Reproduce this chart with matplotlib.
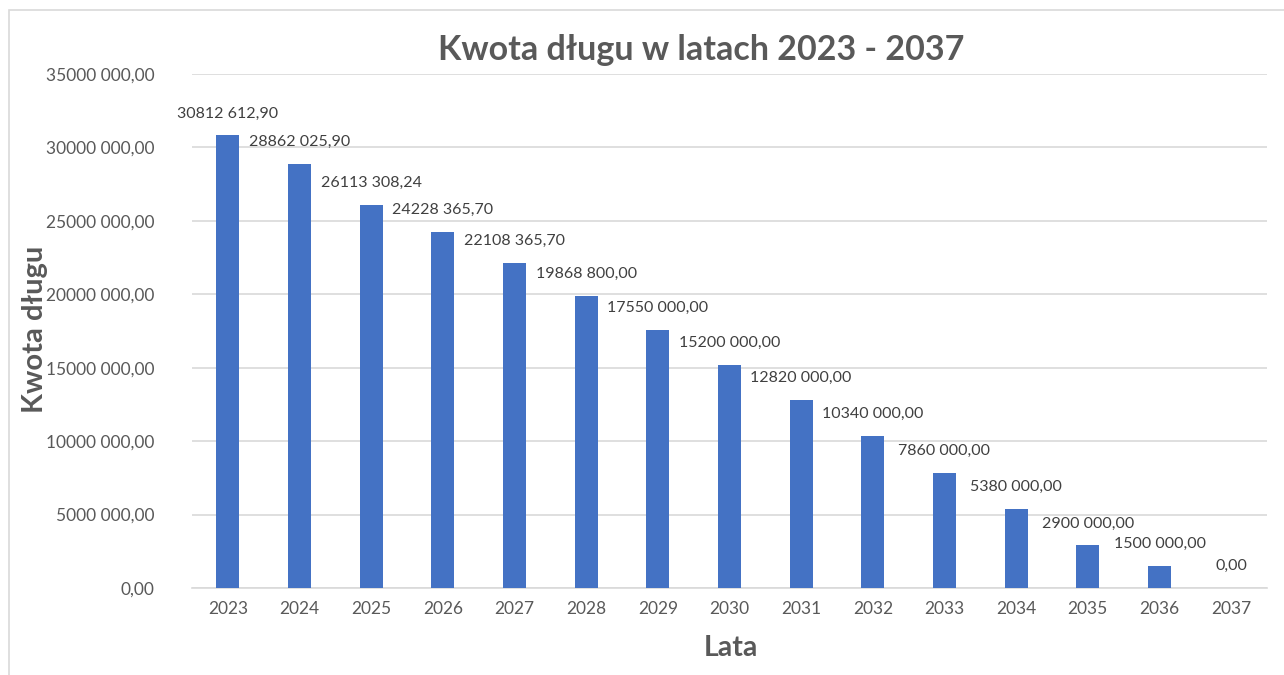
import matplotlib
matplotlib.use("Agg")
import matplotlib.pyplot as plt
from matplotlib.patches import Rectangle

years = ["2023", "2024", "2025", "2026", "2027", "2028", "2029", "2030",
         "2031", "2032", "2033", "2034", "2035", "2036", "2037"]
debt = [30812612.90, 28862025.90, 26113308.24, 24228365.70, 22108365.70,
        19868800.00, 17550000.00, 15200000.00, 12820000.00, 10340000.00,
        7860000.00, 5380000.00, 2900000.00, 1500000.00, 0.00]
yticks = [0, 5e6, 10e6, 15e6, 20e6, 25e6, 30e6, 35e6]


def fmt(v):
    # excel-like: only the last thousands group gets a space, comma decimals
    s = "%.2f" % v
    whole, dec = s.split(".")
    if len(whole) > 3:
        whole = whole[:-3] + " " + whole[-3:]
    return whole + "," + dec


plt.rcParams['font.family'] = ['Lato', 'DejaVu Sans']
gray = "#595959"

fig = plt.figure(figsize=(12.84, 6.75), dpi=100)
ax = fig.add_axes([192/1284, 1-588/675, (1267-192)/1284, (588-74)/675])

# outer chart border (cropped screenshot)
fig.patches.append(Rectangle((9/1284, -0.1), 1.2, 1.1 - 10/675,
                             transform=fig.transFigure, fill=False,
                             edgecolor="#D9D9D9", linewidth=1.2))

x = range(len(years))
ax.bar(x, debt, width=0.32, color="#4472C4", zorder=3)
for i, v in enumerate(debt):
    ax.annotate(fmt(v), (i, v), xytext=(0, 22), textcoords="offset pixels",
                ha="center", va="center", fontsize=11.5, color="#404040")

ax.set_xlim(-0.5, len(years) - 0.5)
ax.set_ylim(0, 35e6)
ax.set_yticks(yticks)
ax.set_yticklabels([fmt(t) for t in yticks])
ax.set_xticks(list(x))
ax.set_xticklabels(years)
ax.tick_params(axis="both", length=0, colors=gray, labelsize=12.5)
ax.tick_params(axis="y", pad=27)
ax.tick_params(axis="x", pad=9)
ax.grid(axis="y", color="#D9D9D9", linewidth=1.2, zorder=0)
for s in ["top", "right", "left"]:
    ax.spines[s].set_visible(False)
ax.spines["bottom"].set_color("#D9D9D9")
ax.spines["bottom"].set_linewidth(1.2)

fig.text(701/1284, 1-50/675, "Kwota długu w latach 2023 - 2037", ha="center",
         va="center", fontsize=24.5, fontweight="bold", color=gray)
fig.text(35/1284, 1-329/675, "Kwota długu", ha="center", va="center",
         rotation=90, fontsize=21, fontweight="bold", color=gray)
fig.text(731/1284, 1-648/675, "Lata", ha="center", va="center",
         fontsize=20.5, fontweight="bold", color=gray)

fig.savefig("out.png", dpi=100)
